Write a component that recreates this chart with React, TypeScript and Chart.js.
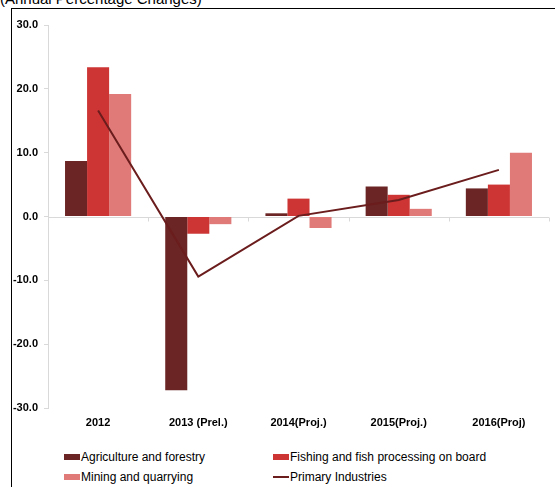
import React, { useEffect, useRef } from "react";
import { Chart, registerables } from "chart.js";

Chart.register(...registerables);

const categories = ["2012", "2013 (Prel.)", "2014(Proj.)", "2015(Proj.)", "2016(Proj)"];
const agriculture = [8.7, -27.2, 0.5, 4.7, 4.4];
const fishing = [23.4, -2.7, 2.8, 3.4, 5.0];
const mining = [19.2, -1.2, -1.8, 1.2, 10.0];
const primary = [16.6, -9.4, 0.1, 2.6, 7.3];
const yTicks = [-30, -20, -10, 0, 10, 20, 30];

const seriesNames = [
  "Agriculture and forestry",
  "Fishing and fish processing on board",
  "Mining and quarrying",
  "Primary Industries",
];
const COLORS = ["#6a2524", "#cc3534", "#df7a78", "#6b1c1c"];
const FONT = "'Liberation Sans', Arial, sans-serif";

const zeroLine = {
  id: "zeroLine",
  beforeDatasetsDraw(chart: any) {
    const { ctx, scales } = chart;
    const x = scales.x;
    const y = scales.y;
    const y0 = Math.round(y.getPixelForValue(0)) + 0.5;
    ctx.save();
    ctx.strokeStyle = "#d9d9d9";
    ctx.lineWidth = 1;
    ctx.beginPath();
    ctx.moveTo(x.left, y0);
    ctx.lineTo(x.right, y0);
    const n = categories.length;
    const step = (x.right - x.left) / n;
    for (let i = 0; i <= n; i++) {
      const px = Math.round(x.getPixelForValue(i) - step / 2) + 0.5;
      ctx.moveTo(px, y0);
      ctx.lineTo(px, y0 + 4);
    }
    ctx.stroke();
    ctx.restore();
  },
};

export default function App() {
  const ref = useRef<HTMLCanvasElement | null>(null);
  useEffect(() => {
    if (!ref.current) return;
    const chart = new Chart(ref.current, {
      type: "bar",
      data: {
        labels: categories,
        datasets: [
          { type: "line", label: seriesNames[3], data: primary, borderColor: COLORS[3], borderWidth: 2, pointRadius: 0, order: 0 } as any,
          { label: seriesNames[0], data: agriculture, backgroundColor: COLORS[0], order: 1 },
          { label: seriesNames[1], data: fishing, backgroundColor: COLORS[1], order: 1 },
          { label: seriesNames[2], data: mining, backgroundColor: COLORS[2], order: 1 },
        ],
      },
      options: {
        responsive: false,
        devicePixelRatio: 1,
        animation: false,
        layout: { padding: { top: 16, right: 6, left: 0, bottom: 0 } },
        plugins: { legend: { display: false }, tooltip: { enabled: false } },
        datasets: { bar: { categoryPercentage: 0.66, barPercentage: 1 } } as any,
        scales: {
          x: {
            offset: true,
            grid: { display: false },
            border: { display: false },
            ticks: { color: "#000", font: { family: FONT, size: 11, weight: "bold" }, padding: 0, maxRotation: 0, autoSkip: false },
            afterFit: (s: any) => { s.height = 30; },
          },
          y: {
            min: -30,
            max: 30,
            afterBuildTicks: (s: any) => { s.ticks = yTicks.map((v) => ({ value: v })); },
            grid: { drawOnChartArea: false, drawTicks: true, tickLength: 4, color: "#d9d9d9" },
            border: { display: true, color: "#d9d9d9" },
            ticks: { color: "#000", font: { family: FONT, size: 11, weight: "bold" }, padding: 6, callback: (v: any) => Number(v).toFixed(1) },
            afterFit: (s: any) => { s.width = 36; },
          },
        },
      },
      plugins: [zeroLine],
    });
    return () => chart.destroy();
  }, []);

  const legendItems = [
    { name: seriesNames[0], color: COLORS[0], x: 64, y: 457, line: false },
    { name: seriesNames[1], color: COLORS[1], x: 273, y: 457, line: false },
    { name: seriesNames[2], color: COLORS[2], x: 64, y: 477, line: false },
    { name: seriesNames[3], color: COLORS[3], x: 273, y: 477, line: true },
  ];

  return (
    <div style={{ position: "absolute", left: 0, top: 0, width: 555, height: 487, overflow: "hidden", background: "#fff", fontFamily: FONT }}>
      <div style={{ position: "absolute", left: 0, top: -9, fontSize: 15, lineHeight: "15px", color: "#000", whiteSpace: "nowrap" }}>
        (Annual Percentage Changes)
      </div>
      <div style={{ position: "absolute", left: 11, top: 8, width: 600, height: 600, border: "1px solid #000", boxSizing: "border-box" }} />
      <canvas ref={ref} width={543} height={429} style={{ position: "absolute", left: 12, top: 9, width: 543, height: 429 }} />
      {legendItems.map((it) => (
        <div key={it.name} style={{ position: "absolute", left: it.x, top: it.y - 8, height: 16, display: "flex", alignItems: "center", fontSize: 12, color: "#000", whiteSpace: "nowrap" }}>
          <span style={{ display: "inline-block", width: 16, height: it.line ? 2 : 6, background: it.color, marginRight: 1 }} />
          {it.name}
        </div>
      ))}
    </div>
  );
}
